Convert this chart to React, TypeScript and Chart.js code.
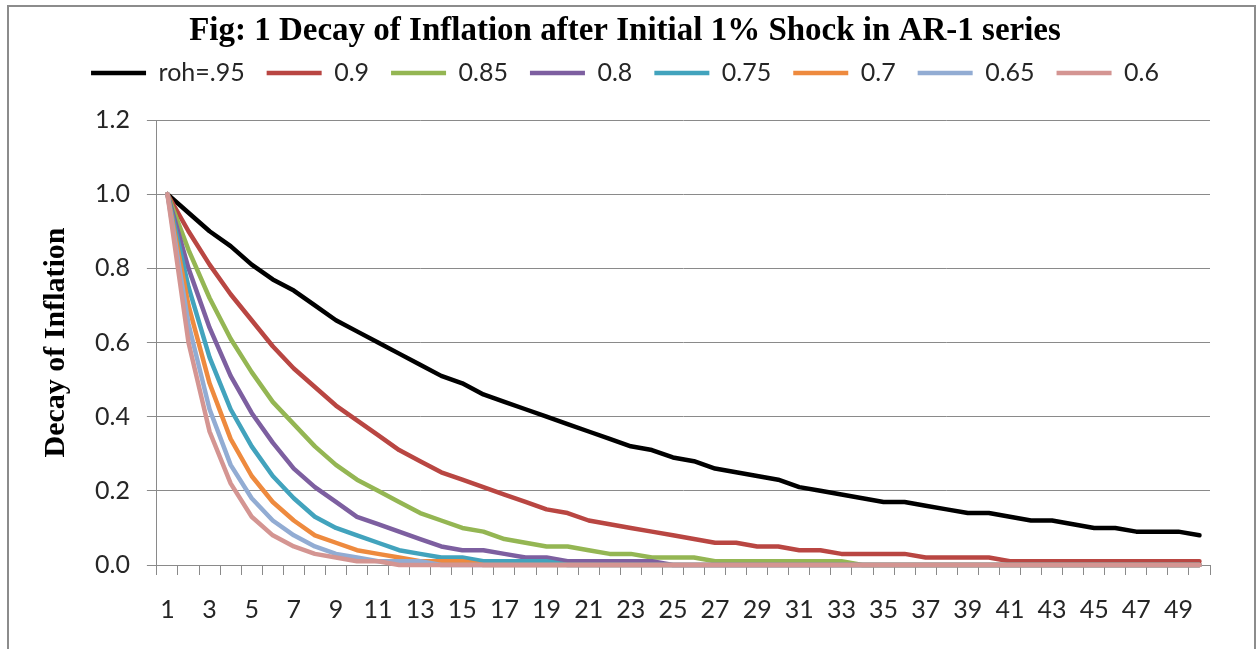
import { useEffect, useRef } from 'react';
import { Chart, registerables } from 'chart.js';

Chart.register(...registerables);

const chartTitle = 'Fig: 1 Decay of Inflation after Initial 1% Shock in AR-1 series';
const yAxisTitle = 'Decay of Inflation';

const xLabels = [
  '1', '2', '3', '4', '5', '6', '7', '8', '9', '10',
  '11', '12', '13', '14', '15', '16', '17', '18', '19', '20',
  '21', '22', '23', '24', '25', '26', '27', '28', '29', '30',
  '31', '32', '33', '34', '35', '36', '37', '38', '39', '40',
  '41', '42', '43', '44', '45', '46', '47', '48', '49', '50',
];

const yTicks = [0, 0.2, 0.4, 0.6, 0.8, 1.0, 1.2];

const seriesNames = ['roh=.95', '0.9', '0.85', '0.8', '0.75', '0.7', '0.65', '0.6'];

const roh95 = [
  1.00, 0.95, 0.90, 0.86, 0.81, 0.77, 0.74, 0.70, 0.66, 0.63,
  0.60, 0.57, 0.54, 0.51, 0.49, 0.46, 0.44, 0.42, 0.40, 0.38,
  0.36, 0.34, 0.32, 0.31, 0.29, 0.28, 0.26, 0.25, 0.24, 0.23,
  0.21, 0.20, 0.19, 0.18, 0.17, 0.17, 0.16, 0.15, 0.14, 0.14,
  0.13, 0.12, 0.12, 0.11, 0.10, 0.10, 0.09, 0.09, 0.09, 0.08,
];
const roh90 = [
  1.00, 0.90, 0.81, 0.73, 0.66, 0.59, 0.53, 0.48, 0.43, 0.39,
  0.35, 0.31, 0.28, 0.25, 0.23, 0.21, 0.19, 0.17, 0.15, 0.14,
  0.12, 0.11, 0.10, 0.09, 0.08, 0.07, 0.06, 0.06, 0.05, 0.05,
  0.04, 0.04, 0.03, 0.03, 0.03, 0.03, 0.02, 0.02, 0.02, 0.02,
  0.01, 0.01, 0.01, 0.01, 0.01, 0.01, 0.01, 0.01, 0.01, 0.01,
];
const roh85 = [
  1.00, 0.85, 0.72, 0.61, 0.52, 0.44, 0.38, 0.32, 0.27, 0.23,
  0.20, 0.17, 0.14, 0.12, 0.10, 0.09, 0.07, 0.06, 0.05, 0.05,
  0.04, 0.03, 0.03, 0.02, 0.02, 0.02, 0.01, 0.01, 0.01, 0.01,
  0.01, 0.01, 0.01, 0.00, 0.00, 0.00, 0.00, 0.00, 0.00, 0.00,
  0.00, 0.00, 0.00, 0.00, 0.00, 0.00, 0.00, 0.00, 0.00, 0.00,
];
const roh80 = [
  1.00, 0.80, 0.64, 0.51, 0.41, 0.33, 0.26, 0.21, 0.17, 0.13,
  0.11, 0.09, 0.07, 0.05, 0.04, 0.04, 0.03, 0.02, 0.02, 0.01,
  0.01, 0.01, 0.01, 0.01, 0.00, 0.00, 0.00, 0.00, 0.00, 0.00,
  0.00, 0.00, 0.00, 0.00, 0.00, 0.00, 0.00, 0.00, 0.00, 0.00,
  0.00, 0.00, 0.00, 0.00, 0.00, 0.00, 0.00, 0.00, 0.00, 0.00,
];
const roh75 = [
  1.00, 0.75, 0.56, 0.42, 0.32, 0.24, 0.18, 0.13, 0.10, 0.08,
  0.06, 0.04, 0.03, 0.02, 0.02, 0.01, 0.01, 0.01, 0.01, 0.00,
  0.00, 0.00, 0.00, 0.00, 0.00, 0.00, 0.00, 0.00, 0.00, 0.00,
  0.00, 0.00, 0.00, 0.00, 0.00, 0.00, 0.00, 0.00, 0.00, 0.00,
  0.00, 0.00, 0.00, 0.00, 0.00, 0.00, 0.00, 0.00, 0.00, 0.00,
];
const roh70 = [
  1.00, 0.70, 0.49, 0.34, 0.24, 0.17, 0.12, 0.08, 0.06, 0.04,
  0.03, 0.02, 0.01, 0.01, 0.01, 0.00, 0.00, 0.00, 0.00, 0.00,
  0.00, 0.00, 0.00, 0.00, 0.00, 0.00, 0.00, 0.00, 0.00, 0.00,
  0.00, 0.00, 0.00, 0.00, 0.00, 0.00, 0.00, 0.00, 0.00, 0.00,
  0.00, 0.00, 0.00, 0.00, 0.00, 0.00, 0.00, 0.00, 0.00, 0.00,
];
const roh65 = [
  1.00, 0.65, 0.42, 0.27, 0.18, 0.12, 0.08, 0.05, 0.03, 0.02,
  0.01, 0.01, 0.01, 0.00, 0.00, 0.00, 0.00, 0.00, 0.00, 0.00,
  0.00, 0.00, 0.00, 0.00, 0.00, 0.00, 0.00, 0.00, 0.00, 0.00,
  0.00, 0.00, 0.00, 0.00, 0.00, 0.00, 0.00, 0.00, 0.00, 0.00,
  0.00, 0.00, 0.00, 0.00, 0.00, 0.00, 0.00, 0.00, 0.00, 0.00,
];
const roh60 = [
  1.00, 0.60, 0.36, 0.22, 0.13, 0.08, 0.05, 0.03, 0.02, 0.01,
  0.01, 0.00, 0.00, 0.00, 0.00, 0.00, 0.00, 0.00, 0.00, 0.00,
  0.00, 0.00, 0.00, 0.00, 0.00, 0.00, 0.00, 0.00, 0.00, 0.00,
  0.00, 0.00, 0.00, 0.00, 0.00, 0.00, 0.00, 0.00, 0.00, 0.00,
  0.00, 0.00, 0.00, 0.00, 0.00, 0.00, 0.00, 0.00, 0.00, 0.00,
];

const seriesColors = ['#000000', '#B94642', '#94B653', '#7D5FA0', '#42A3BD', '#EE8A3E', '#92ACD3', '#D49592'];

export default function App() {
  const canvasRef = useRef<HTMLCanvasElement | null>(null);

  useEffect(() => {
    const canvas = canvasRef.current;
    if (!canvas) return;
    const seriesValues = [roh95, roh90, roh85, roh80, roh75, roh70, roh65, roh60];
    const gridColor = '#8a8a8a';
    const textColor = '#262626';

    const chart = new Chart(canvas, {
      type: 'line',
      data: {
        labels: xLabels,
        datasets: seriesValues.map((vals, i) => ({
          label: seriesNames[i],
          data: vals,
          borderColor: seriesColors[i],
          backgroundColor: seriesColors[i],
          borderWidth: 4.5,
          pointRadius: 0,
          pointHoverRadius: 0,
          tension: 0,
          borderJoinStyle: 'round' as const,
          borderCapStyle: 'round' as const,
          fill: false,
          clip: false as any,
          order: seriesValues.length - i,
        })),
      },
      options: {
        responsive: false,
        animation: false,
        devicePixelRatio: 1,
        events: [],
        layout: { padding: { left: 40, right: 49, top: 0, bottom: 4 } },
        plugins: {
          title: {
            display: true,
            text: chartTitle,
            color: '#000000',
            font: { family: '"Liberation Serif", "Times New Roman", serif', size: 33, weight: 'bold', lineHeight: 1 },
            padding: { top: 14.5, bottom: -9 },
          },
          subtitle: {
            display: true,
            text: '',
            weight: 500,
            font: { size: 10, lineHeight: 1 },
            padding: { top: 14.5, bottom: 0 },
          },
          legend: {
            display: true,
            position: 'top',
            labels: {
              usePointStyle: true,
              pointStyle: 'line',
              pointStyleWidth: 55,
              padding: 22,
              color: textColor,
              font: { family: 'Lato, "Noto Sans", sans-serif', size: 25 },
              sort: (a: any, b: any) => a.datasetIndex - b.datasetIndex,
            },
          },
          tooltip: { enabled: false },
        },
        scales: {
          x: {
            type: 'category',
            offset: true,
            grid: {
              display: true,
              drawOnChartArea: false,
              drawTicks: true,
              tickLength: 10,
              offset: true,
              color: gridColor,
              lineWidth: 1,
            },
            border: { display: true, color: gridColor, width: 1 },
            ticks: {
              autoSkip: false,
              maxRotation: 0,
              minRotation: 0,
              padding: 20,
              color: textColor,
              font: { family: 'Lato, "Noto Sans", sans-serif', size: 25 },
              callback: (_v: any, index: number) => (index % 2 === 0 ? xLabels[index] : ''),
            },
          },
          y: {
            type: 'linear',
            min: yTicks[0],
            max: yTicks[yTicks.length - 1],
            afterBuildTicks: (scale: any) => {
              scale.ticks = yTicks.map((v) => ({ value: v }));
            },
            grid: {
              display: true,
              drawOnChartArea: true,
              drawTicks: true,
              tickLength: 10,
              color: gridColor,
              lineWidth: 1,
            },
            border: { display: true, color: gridColor, width: 1 },
            ticks: {
              padding: 17,
              color: textColor,
              font: { family: 'Lato, "Noto Sans", sans-serif', size: 25 },
              callback: (v: any) => Number(v).toFixed(1),
            },
            title: {
              display: true,
              text: yAxisTitle,
              color: '#000000',
              font: { family: '"Liberation Serif", "Times New Roman", serif', size: 30, weight: 'bold', lineHeight: 1.2 },
              padding: { top: -2, bottom: 4 },
            },
          },
        },
      } as any,
    });

    return () => chart.destroy();
  }, []);

  return (
    <div style={{ position: 'fixed', left: 0, top: 0, width: 1259, height: 649, overflow: 'hidden', background: '#ffffff' }}>
      <div
        style={{
          position: 'absolute',
          left: 7,
          top: 5,
          width: 1249,
          height: 700,
          border: '2px solid #8c8c8c',
          boxSizing: 'border-box',
        }}
      />
      <canvas
        ref={canvasRef}
        width={1259}
        height={649}
        style={{ position: 'absolute', left: 0, top: 0, width: 1259, height: 649 }}
      />
    </div>
  );
}
